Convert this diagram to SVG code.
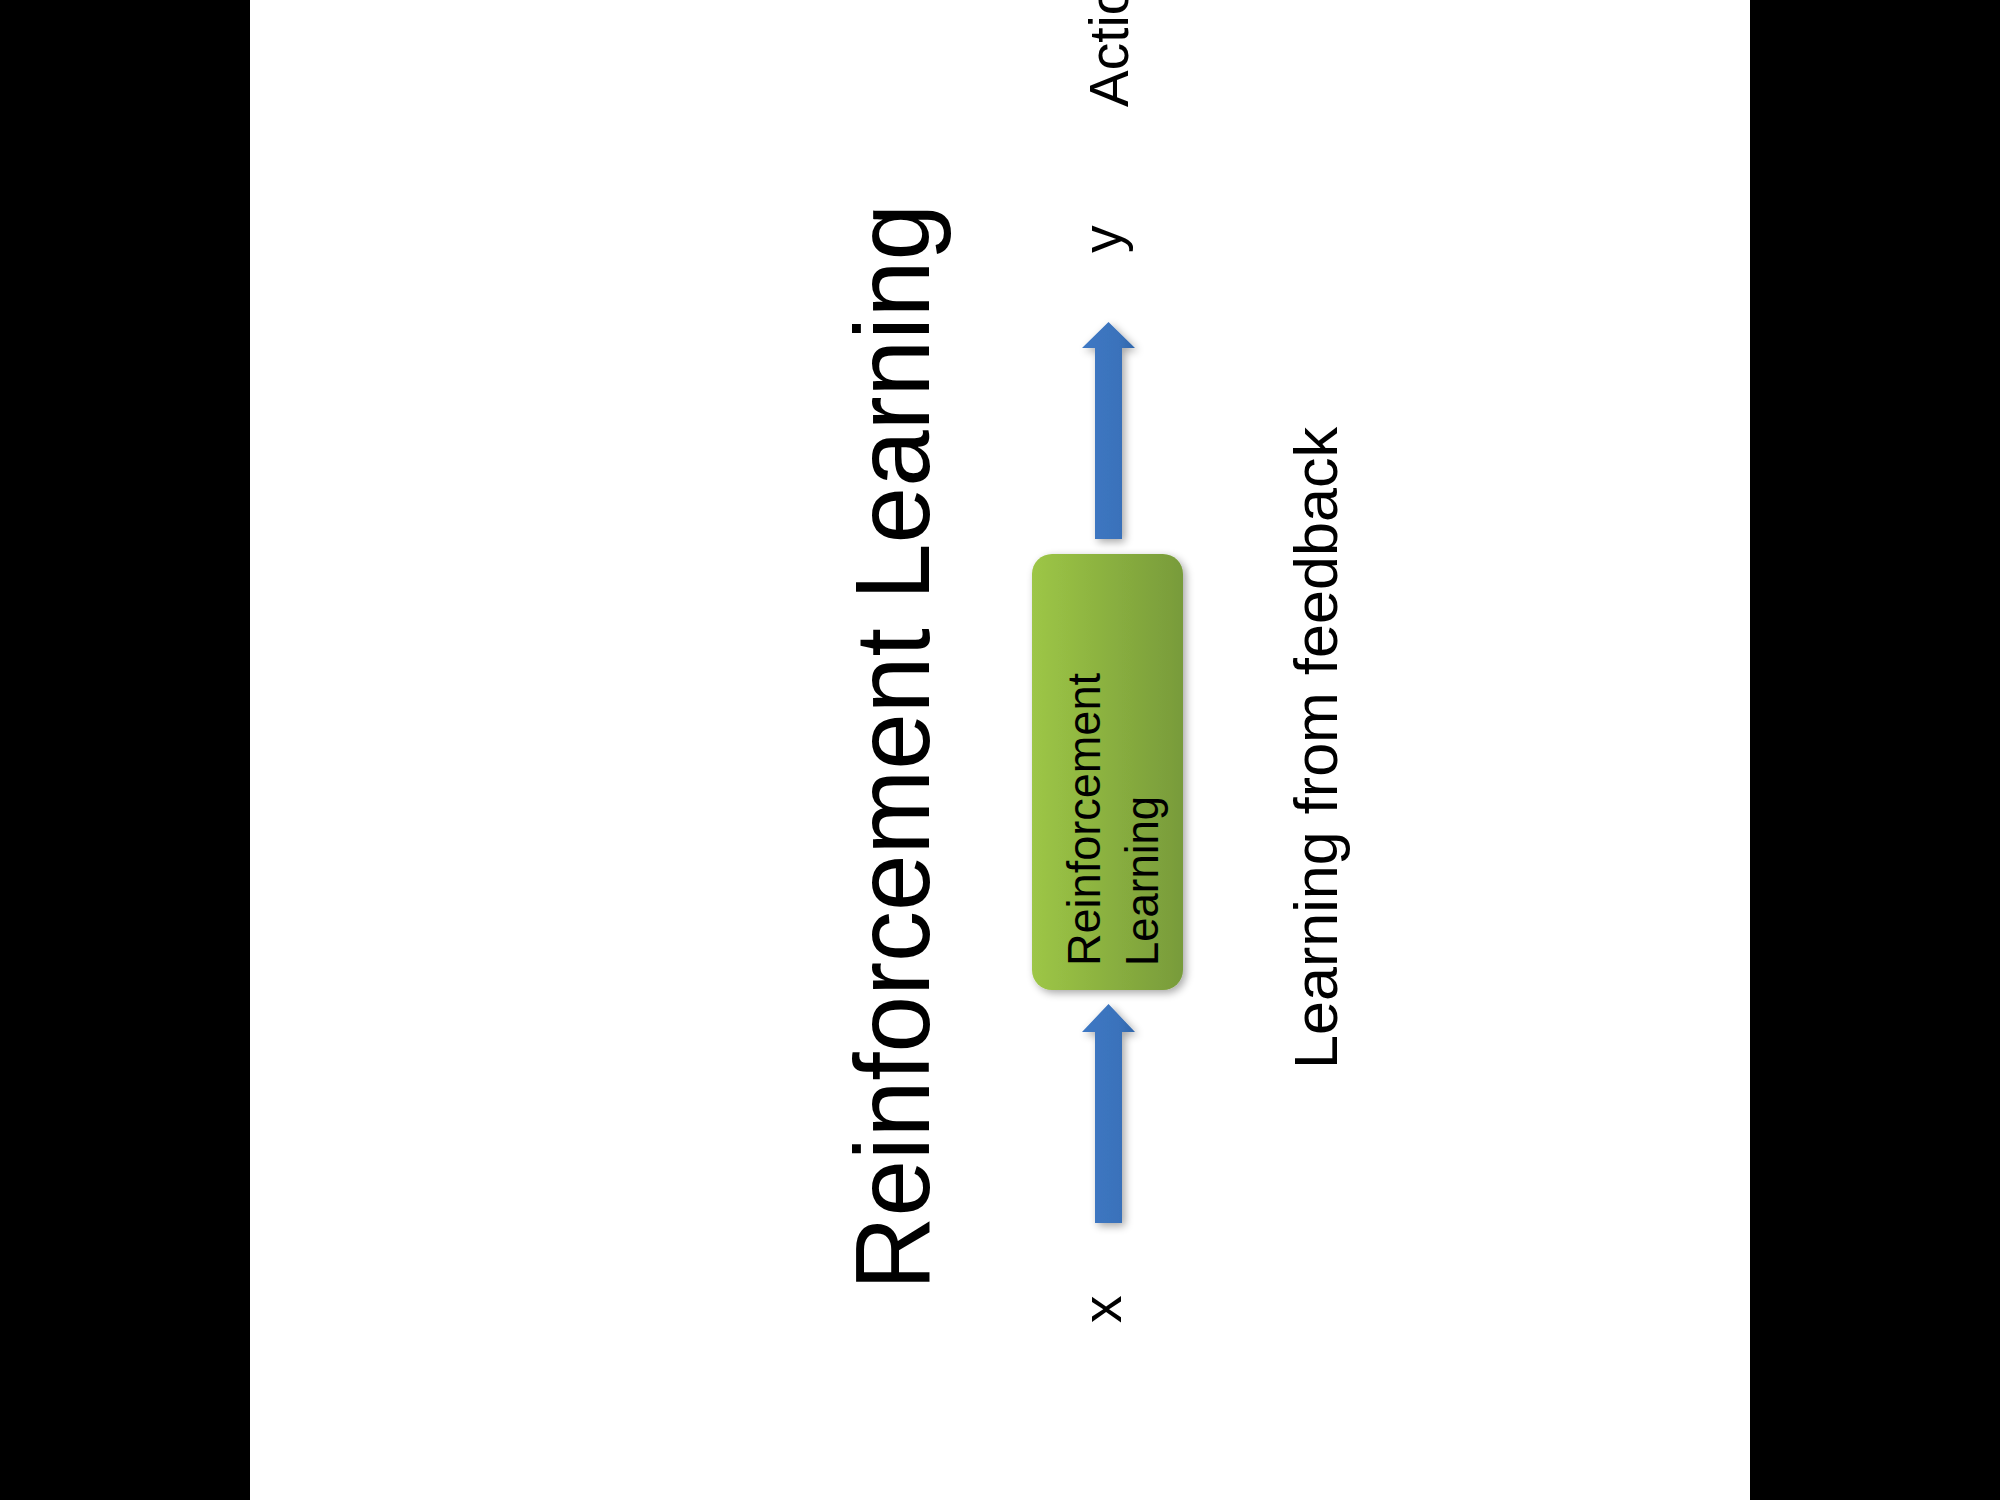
<svg xmlns="http://www.w3.org/2000/svg" width="2000" height="1500" viewBox="0 0 2000 1500">
  <style>
    text { font-family: "Liberation Sans", Arial, sans-serif; fill: #000; }
    .title { font-size: 105px; }
    .box-label { font-size: 47px; }
    .label { font-size: 55px; }
    .caption { font-size: 62px; }
  </style>
  <defs>
    <linearGradient id="greenGrad" x1="0" y1="0" x2="1" y2="0">
      <stop offset="0" stop-color="#9DC646"/>
      <stop offset="1" stop-color="#789B3A"/>
    </linearGradient>
    <linearGradient id="blueGrad" x1="0" y1="0" x2="1" y2="0">
      <stop offset="0" stop-color="#3E78C4"/>
      <stop offset="0.7" stop-color="#3A72BB"/>
      <stop offset="1" stop-color="#3066AA"/>
    </linearGradient>
    <filter id="shadow" x="-20%" y="-20%" width="140%" height="140%">
      <feGaussianBlur in="SourceAlpha" stdDeviation="4"/>
      <feOffset dx="3" dy="3" result="b"/>
      <feComponentTransfer><feFuncA type="linear" slope="0.35"/></feComponentTransfer>
      <feMerge><feMergeNode/><feMergeNode in="SourceGraphic"/></feMerge>
    </filter>
  </defs>

  <rect x="0" y="0" width="2000" height="1500" fill="#ffffff"/>
  <rect x="0" y="0" width="250" height="1500" fill="#000000"/>
  <rect x="1750" y="0" width="250" height="1500" fill="#000000"/>

  <g id="title">
    <text class="title" transform="translate(929,1290) rotate(-90)" textLength="1086" lengthAdjust="spacingAndGlyphs">Reinforcement Learning</text>
  </g>

  <g id="connectors">
    <path id="arrow-in" d="M1095,1223 L1095,1032 L1082,1032 L1108.5,1004 L1135,1032 L1122,1032 L1122,1223 Z" fill="url(#blueGrad)" filter="url(#shadow)"/>
    <path id="arrow-out" d="M1095,539 L1095,348 L1082,348 L1108.5,322 L1135,348 L1122,348 L1122,539 Z" fill="url(#blueGrad)" filter="url(#shadow)"/>
  </g>

  <g id="node-rl">
    <rect x="1032" y="554" width="151" height="436" rx="20" ry="20" fill="url(#greenGrad)" filter="url(#shadow)"/>
    <text class="box-label" transform="translate(1100,966) rotate(-90)" textLength="293" lengthAdjust="spacingAndGlyphs">Reinforcement</text>
    <text class="box-label" transform="translate(1158,966) rotate(-90)" textLength="170" lengthAdjust="spacingAndGlyphs">Learning</text>
  </g>

  <g id="node-x">
    <text class="label" transform="translate(1121,1323) rotate(-90)">x</text>
  </g>
  <g id="node-y">
    <text class="label" transform="translate(1121,253) rotate(-90)">y</text>
  </g>
  <g id="node-action">
    <text class="label" transform="translate(1128,107) rotate(-90)">Actio</text>
  </g>

  <g id="caption">
    <text class="caption" transform="translate(1337,1069) rotate(-90)" textLength="642" lengthAdjust="spacingAndGlyphs">Learning from feedback</text>
  </g>
</svg>
